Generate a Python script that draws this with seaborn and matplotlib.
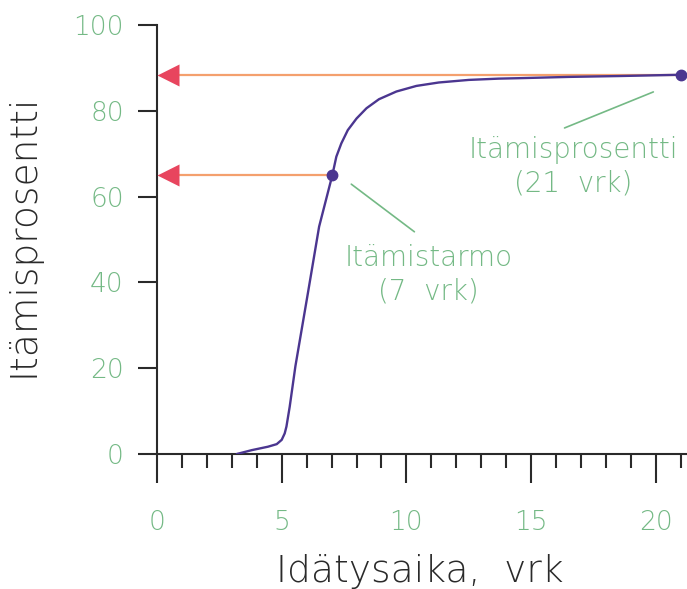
import numpy as np
import pandas as pd
import matplotlib
matplotlib.use('Agg')
import matplotlib.pyplot as plt
import seaborn as sns

# itämiskäyrä luettu kuvasta (vrk, %)
days = [3.2, 3.8, 4.45, 4.8, 5.0, 5.12, 5.19, 5.32, 5.55, 6.05, 6.5, 7.03, 7.19, 7.39,
        7.65, 8.0, 8.4, 8.9, 9.6, 10.4, 11.3, 12.5, 13.7, 14.5, 16.5, 18.5, 21.0]
germ = [0.0, 0.9, 1.7, 2.3, 3.3, 4.8, 6.4, 11.0, 20.5, 37.5, 53.0, 65.0, 69.3, 72.4,
        75.5, 78.2, 80.6, 82.7, 84.5, 85.8, 86.6, 87.2, 87.5, 87.6, 87.9, 88.1, 88.4]

# merkityt pisteet
mark_days = [7, 21]
mark_vals = [65.0, 88.4]
mark_text = ['Itämistarmo\n(7  vrk)', 'Itämisprosentti\n(21  vrk)']

df = pd.DataFrame({'vrk': days, 'itaminen': germ})

sns.set_style('white')
plt.rcParams['font.family'] = ['DejaVu Sans']

green = '#74b985'
purple = '#4b3690'
orange = '#f4a06e'
red = '#e8455e'
dark = '#2a2a2a'

fig = plt.figure(figsize=(6.87, 5.89), dpi=100)
ax = fig.add_axes([157/687, 1-454/589, 530/687, 429/589])

# vaakaviivat ja nuolenkärjet y-akselille
for d, v in zip(mark_days, mark_vals):
    ax.plot([0.5, d], [v, v], color=orange, lw=1.6, zorder=2, clip_on=False)
    ax.plot([0.43], [v], marker='<', ms=16, color=red, mec='none', zorder=3, clip_on=False)

sns.lineplot(data=df, x='vrk', y='itaminen', color=purple, lw=1.7, ax=ax, zorder=4)
ax.plot(mark_days, mark_vals, 'o', ms=7.5, color=purple, zorder=5, clip_on=False)

# selitteet ja viivat
ax.plot([16.34, 19.9], [76.0, 84.4], color=green, lw=1.2)
ax.plot([7.79, 10.32], [62.9, 51.8], color=green, lw=1.2)
ax.text(16.68, 67.0, mark_text[1], color=green, fontsize=20, ha='center', va='center',
        fontweight='light', linespacing=1.25)
ax.text(10.88, 41.7, mark_text[0], color=green, fontsize=20, ha='center', va='center',
        fontweight='light', linespacing=1.25)

ax.set_xlim(0, 21.25)
ax.set_ylim(0, 100)
ax.set_xticks([0, 5, 10, 15, 20])
ax.set_xticks(range(0, 22), minor=True)
ax.set_yticks(range(0, 101, 20))

for s in ['top', 'right']:
    ax.spines[s].set_visible(False)
for s in ['left', 'bottom']:
    ax.spines[s].set_linewidth(1.5)
    ax.spines[s].set_color(dark)

ax.tick_params(axis='x', which='major', direction='out', length=21, width=1.5,
               color=dark, labelsize=19, labelcolor=green, pad=19, bottom=True)
ax.tick_params(axis='x', which='minor', direction='out', length=10, width=1.5,
               color=dark, bottom=True)
ax.tick_params(axis='y', which='major', direction='out', length=14, width=1.5,
               color=dark, labelsize=19, labelcolor=green, pad=10, left=True)
for lab in ax.get_xticklabels() + ax.get_yticklabels():
    lab.set_fontweight('light')

ax.set_xlabel('Idätysaika,  vrk', fontsize=27, fontweight='light', color=dark)
ax.set_ylabel('Itämisprosentti', fontsize=27, fontweight='light', color=dark)
ax.xaxis.set_label_coords(0.496, -0.232)
ax.yaxis.set_label_coords(-0.22, 0.51)

fig.savefig('out.png', dpi=100)
